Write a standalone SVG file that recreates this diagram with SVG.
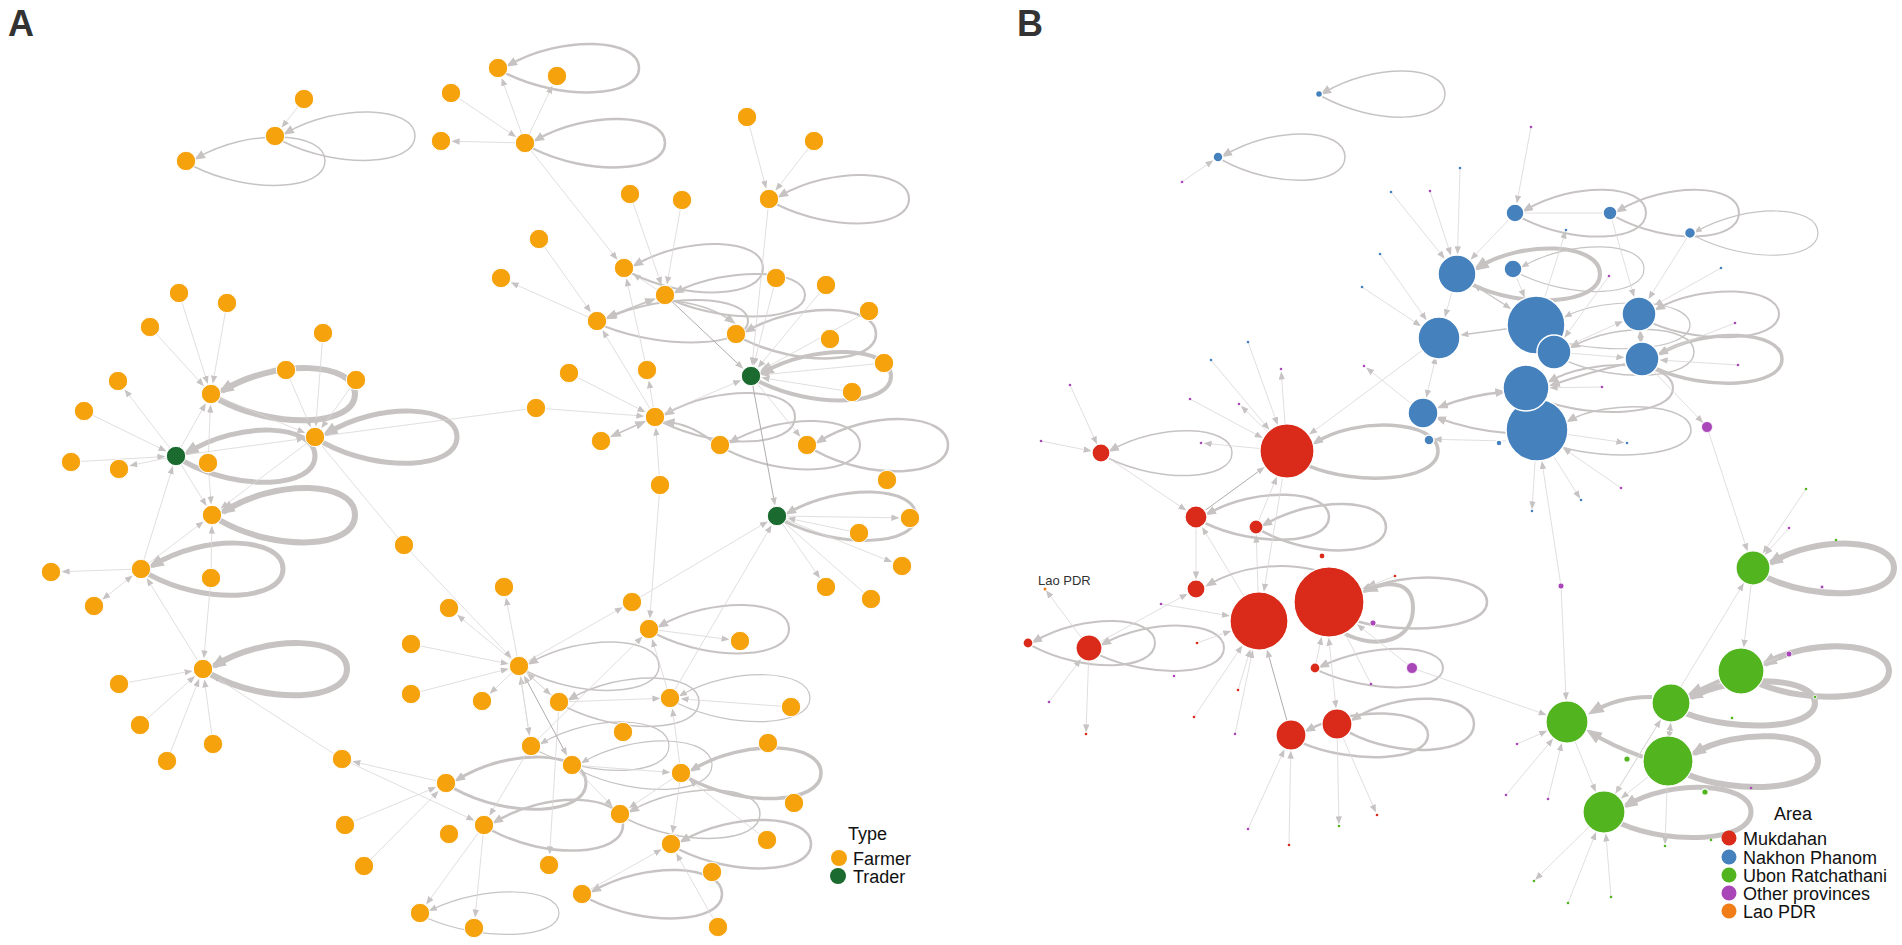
<svg xmlns="http://www.w3.org/2000/svg" width="1902" height="945" viewBox="0 0 1902 945">
<style>
.lp{fill:none;stroke:#c7c3c3}
.e{fill:none;stroke:#d9d6d6;stroke-width:.8}
.ed{fill:none;stroke:#b0acac;stroke-width:1}
.f{fill:#f5a20c;stroke:#fff;stroke-width:1}
.t{fill:#1b6a2f;stroke:#fff;stroke-width:1}
.r{fill:#d92a1a;stroke:#fff;stroke-width:1.2}
.b{fill:#4581bd;stroke:#fff;stroke-width:1.5}
.g{fill:#52b41f;stroke:#fff;stroke-width:1.2}
.p{fill:#a946b8;stroke:#fff;stroke-width:.8}
.o{fill:#f07d18}
.dr{fill:#d92a1a}.db{fill:#4581bd}.dg{fill:#52b41f}.dp{fill:#a946b8}
text{font-family:"Liberation Sans",Arial,sans-serif;fill:#111}
.lab{font-weight:bold;font-size:36px;fill:#333}
.leg{font-size:18px}
</style>
<defs>
<marker id="aS" viewBox="0 0 10 8" refX="7" refY="4" markerWidth="8" markerHeight="6.4" markerUnits="userSpaceOnUse" orient="auto"><path d="M0,0L10,4L0,8z" fill="#c7c3c3"/></marker>
<marker id="aS2" viewBox="0 0 10 8" refX="7" refY="4" markerWidth="8" markerHeight="6.4" markerUnits="userSpaceOnUse" orient="auto-start-reverse"><path d="M0,0L10,4L0,8z" fill="#c7c3c3"/></marker>
<marker id="aM" viewBox="0 0 10 8" refX="7" refY="4" markerWidth="11" markerHeight="8.8" markerUnits="userSpaceOnUse" orient="auto"><path d="M0,0L10,4L0,8z" fill="#c7c3c3"/></marker>
<marker id="aM2" viewBox="0 0 10 8" refX="7" refY="4" markerWidth="11" markerHeight="8.8" markerUnits="userSpaceOnUse" orient="auto-start-reverse"><path d="M0,0L10,4L0,8z" fill="#c7c3c3"/></marker>
<marker id="aL" viewBox="0 0 10 8" refX="7" refY="4" markerWidth="16" markerHeight="12.8" markerUnits="userSpaceOnUse" orient="auto"><path d="M0,0L10,4L0,8z" fill="#c7c3c3"/></marker>
</defs>
<rect width="1902" height="945" fill="#fff"/>
<text class="lab" x="8" y="36">A</text>
<text class="lab" x="1017" y="36">B</text>

<g id="connectors">
<g id="loopsA" class="lp">
<path d="M283,141.5 C338,169 415,166 415,136 C415,106 338,103 286,133" stroke-width="1.5" marker-end="url(#aM)"/>
<path d="M194,166.5 C249,194 325,191 325,161 C325,131 249,128 197,158" stroke-width="1.5" marker-end="url(#aM)"/>
<path d="M506,73.5 C561,101 639,98 639,68 C639,38 561,35 509,65" stroke-width="2.5" marker-end="url(#aM)"/>
<path d="M533,148.5 C588,176 665,173 665,143 C665,113 588,110 536,140" stroke-width="2.5" marker-end="url(#aM)"/>
<path d="M777,204.5 C832,232 909,229 909,199 C909,169 832,166 780,196" stroke-width="2" marker-end="url(#aM)"/>
<path d="M632,273.5 C687,301 763,298 763,268 C763,238 687,235 635,265" stroke-width="2" marker-end="url(#aM)"/>
<path d="M605,326.5 C665,350 748,347 748,321 C748,295 665,292 608,318" stroke-width="2" marker-end="url(#aM)"/>
<path d="M673,300.5 C728,324 805,321 805,295 C805,269 728,266 676,292" stroke-width="2" marker-end="url(#aM)"/>
<path d="M744,339.5 C799,367 876,364 876,334 C876,304 799,301 747,331" stroke-width="2.5" marker-end="url(#aM)"/>
<path d="M759,381.5 C814,409 891,406 891,376 C891,346 814,343 762,373" stroke-width="4" marker-end="url(#aL)"/>
<path d="M663,422.5 C718,450 795,447 795,417 C795,387 718,384 666,414" stroke-width="2" marker-end="url(#aM)"/>
<path d="M728,450.5 C783,478 860,475 860,445 C860,415 783,412 731,442" stroke-width="2" marker-end="url(#aM)"/>
<path d="M815,450.5 C870,481 948,477 948,445 C948,413 870,409 818,442" stroke-width="2.5" marker-end="url(#aM)"/>
<path d="M785,521.5 C840,549 916,546 916,516 C916,486 840,483 788,513" stroke-width="3" marker-end="url(#aM)"/>
<path d="M657,634.5 C712,662 789,659 789,629 C789,599 712,596 660,626" stroke-width="2" marker-end="url(#aM)"/>
<path d="M527,671.5 C582,699 659,696 659,666 C659,636 582,633 530,663" stroke-width="1.5" marker-end="url(#aM)"/>
<path d="M678,703.5 C733,730 810,727 810,698 C810,669 733,666 681,695" stroke-width="1.2" marker-end="url(#aS)"/>
<path d="M567,707.5 C622,735 699,732 699,702 C699,672 622,669 570,699" stroke-width="1.5" marker-end="url(#aM)"/>
<path d="M539,751.5 C593,779 669,776 669,746 C669,716 593,713 542,743" stroke-width="1.2" marker-end="url(#aS)"/>
<path d="M580,770.5 C635,798 712,795 712,765 C712,735 635,732 583,762" stroke-width="1.2" marker-end="url(#aS)"/>
<path d="M689,778.5 C744,808 821,804 821,773 C821,742 744,738 692,770" stroke-width="3.5" marker-end="url(#aM)"/>
<path d="M628,819.5 C683,847 760,844 760,814 C760,784 683,781 631,811" stroke-width="1.5" marker-end="url(#aM)"/>
<path d="M492,830.5 C547,860 623,856 623,825 C623,794 547,790 495,822" stroke-width="2.5" marker-end="url(#aM)"/>
<path d="M679,849.5 C734,877 811,874 811,844 C811,814 734,811 682,841" stroke-width="2.5" marker-end="url(#aM)"/>
<path d="M590,899.5 C645,927 722,924 722,894 C722,864 645,861 593,891" stroke-width="2.5" marker-end="url(#aM)"/>
<path d="M428,918.5 C483,942 559,939 559,913 C559,887 483,884 431,910" stroke-width="1.2" marker-end="url(#aS)"/>
<path d="M454,788.5 C509,819 586,815 586,783 C586,751 509,747 457,780" stroke-width="3" marker-end="url(#aM)"/>
<path d="M219,399.5 C276,430 355,426 355,394 C355,362 276,358 222,391" stroke-width="6" marker-end="url(#aL)"/>
<path d="M184,461.5 C239,492 315,488 315,456 C315,424 239,420 187,453" stroke-width="5" marker-end="url(#aL)"/>
<path d="M323,442.5 C379,473 457,469 457,437 C457,405 379,401 326,434" stroke-width="5" marker-end="url(#aL)"/>
<path d="M220,520.5 C276,552 355,549 355,515 C355,481 276,478 223,512" stroke-width="6" marker-end="url(#aL)"/>
<path d="M149,574.5 C205,605 283,601 283,569 C283,537 205,533 152,566" stroke-width="5" marker-end="url(#aL)"/>
<path d="M211,674.5 C268,705 347,701 347,669 C347,637 268,633 214,666" stroke-width="6" marker-end="url(#aL)"/>
<path d="M652.9,299.6L609.1,316.4" stroke-width="1.8" marker-start="url(#aM2)" marker-end="url(#aM2)"/>
<path d="M643.1,422.3L612.9,435.7" stroke-width="1.5" marker-start="url(#aM2)" marker-end="url(#aM2)"/>
<path d="M712,441Q690,424 666.9,422.1" stroke-width="2" marker-end="url(#aM)"/>
<path d="M676,301Q712,306 733,322" stroke-width="1.5" marker-end="url(#aM)"/>
</g>
<g id="edgesA" class="e" marker-end="url(#aS)">
<path d="M304,99L283,125.8"/><path d="M451,93L514.2,135.7"/><path d="M525,143L454,141.3"/>
<path d="M525,143L502.4,80.2"/><path d="M525,143L551.4,87.7"/><path d="M525,143L615.9,257.8"/>
<path d="M747,117L765.6,186.4"/><path d="M814,141L777,188.7"/><path d="M630,194L660.7,282.7"/>
<path d="M682,200L667.3,282.2"/><path d="M539,239L589.5,310.4"/><path d="M597,321L512.9,283.3"/>
<path d="M665,295L634.9,275.1"/><path d="M776,278L754.2,363.4"/><path d="M826,285L759.3,366"/>
<path d="M869,311L762.4,369.7"/><path d="M884,363L763.9,374.7"/><path d="M852,392L763.8,378"/>
<path d="M769,199L752.3,363.1"/><path d="M751,376L798.8,434.9"/><path d="M655,417L739,381.1"/>
<path d="M536,408L642,416"/><path d="M569,373L643.4,411.1"/><path d="M655,417L649.2,382.8"/>
<path d="M660,485L656,430"/><path d="M660,485L650,616"/><path d="M647,370L626.9,280.7"/>
<path d="M655,417L603.7,332.1"/><path d="M519,666L506.4,599.8"/><path d="M519,666L620.7,608.4"/>
<path d="M670,698L652.8,641.4"/><path d="M649,629L727.1,639.3"/><path d="M632,602L765.8,522.6"/>
<path d="M670,698L770.4,527.2"/><path d="M859,533L789.7,518.6"/><path d="M777,516L897,517.8"/>
<path d="M777,516L889.9,561.2"/><path d="M777,516L818.6,576.3"/><path d="M519,666L491.4,692.1"/>
<path d="M559,702L528.7,674.7"/><path d="M531,746L520.9,678.9"/><path d="M572,765L610.9,804.7"/>
<path d="M531,746L490.6,813.8"/><path d="M559,702L549.8,852"/><path d="M582,894L659.7,850.4"/>
<path d="M718,927L677.4,855.3"/><path d="M681,773L672.7,710.9"/><path d="M484,825L427.6,902.5"/>
<path d="M446,783L354.7,761.9"/><path d="M345,825L434,788"/><path d="M364,866L436.9,792.8"/>
<path d="M342,759L472.2,819.5"/><path d="M791,707L683,699"/><path d="M484,825L475.3,915.1"/>
<path d="M681,773L672.8,831.1"/><path d="M404,545L510,656.6"/><path d="M519,666L459,616.3"/>
<path d="M411,644L506.3,663.4"/><path d="M411,694L506.4,669.3"/><path d="M342,759L213.9,676.1"/>
<path d="M531,746L640.8,638.2"/><path d="M519,666L549.2,693.4"/><path d="M559,702L658,698.5"/>
<path d="M519,666L529.1,733.1"/><path d="M572,765L668,772.2"/><path d="M767,840L691.2,781.1"/>
<path d="M681,773L630.8,806.7"/>
<path d="M179,293L207.1,381.6"/><path d="M227,303L213.2,381.2"/><path d="M150,327L202.3,384.4"/>
<path d="M176,456L126,391.3"/><path d="M84,411L164.3,450.3"/><path d="M71,462L163,456.7"/>
<path d="M176,456L131.7,465.3"/><path d="M176,456L204.6,405.3"/><path d="M208,463L210.4,407"/>
<path d="M323,333L316,424"/><path d="M286,370L309.8,425.1"/><path d="M356,380L322.6,426.4"/>
<path d="M176,456L302.1,438.8"/><path d="M211,394L303,432"/><path d="M315,437L222.4,507.1"/>
<path d="M176,456L205.2,503.9"/><path d="M208,463L211,502"/><path d="M141,569L201.7,522.9"/>
<path d="M211,578L211.8,528"/><path d="M141,569L64,571.6"/><path d="M141,569L172.2,468.4"/>
<path d="M203,669L147.9,580"/><path d="M211,578L204.1,656"/><path d="M119,684L190.2,671.3"/>
<path d="M140,725L193.3,677.6"/><path d="M167,761L198.3,681.1"/><path d="M213,744L204.7,681.9"/>
<path d="M130.8,577L104.2,598" marker-start="url(#aS2)" marker-end="url(#aS2)"/>
<path d="M536,408L327.9,435.3" marker-end="none"/><path d="M871,599L777,516" marker-end="none"/>
<path d="M322,446L404,545" marker-end="none"/>
</g>
<g id="edgesAdark" class="ed">
<path d="M665,295L741.5,367.1" marker-end="url(#aS)"/>
<path d="M751,376L774.6,503.2" marker-end="url(#aS)"/>
<path d="M525.1,677.5L565.9,753.5" marker-start="url(#aS2)" marker-end="url(#aS2)"/>
</g>

<g id="loopsB" class="lp">
<path d="M1321,96 C1376,126 1445,123 1445,94 C1445,65 1376,62 1323,93" stroke-width="1.5" marker-end="url(#aM)"/>
<path d="M1222,160 C1275,189 1345,186 1345,157 C1345,128 1275,125 1224,155.5" stroke-width="1.5" marker-end="url(#aM)"/>
<path d="M1522,218 C1574,245 1646,242 1646,213 C1646,184 1574,181 1525,210.3" stroke-width="2" marker-end="url(#aM)"/>
<path d="M1615.6,216.9 C1668,245 1739,242 1739,213 C1739,184 1668,181 1618,211" stroke-width="2" marker-end="url(#aM)"/>
<path d="M1694,235.8 C1748,263.6 1818,260.6 1818,233 C1818,205.4 1748,202.4 1696,231.5" stroke-width="1.2" marker-end="url(#aS)"/>
<path d="M1520,274 C1572,299.6 1644,296.6 1644,269 C1644,241.4 1572,238.4 1523,266.3" stroke-width="1.2" marker-end="url(#aS)"/>
<path d="M1472,284.5 C1521,308.6 1600,305.2 1600,274 C1600,242.8 1521,239.4 1477,268.3" stroke-width="4" marker-end="url(#aL)"/>
<path d="M1652.6,323.4 C1702,344.6 1779,341.6 1779,314 C1779,286.4 1702,283.4 1657,308.9" stroke-width="2" marker-end="url(#aM)"/>
<path d="M1655.6,368.4 C1705,391 1782,387.8 1782,359 C1782,330.2 1705,327 1660,353.9" stroke-width="3.5" marker-end="url(#aM)"/>
<path d="M1559,341 C1605,354.3 1690,351.4 1690,325 C1690,298.6 1605,295.7 1566,316.3" stroke-width="1.2" marker-end="url(#aS)"/>
<path d="M1567.6,361.4 C1617,382.6 1694,379.6 1694,352 C1694,324.4 1617,321.4 1572,346.9" stroke-width="1.5" marker-end="url(#aM)"/>
<path d="M1544.4,400.7 C1592,418.6 1673,415.6 1673,388 C1673,360.4 1592,357.4 1550,381.1" stroke-width="2" marker-end="url(#aM)"/>
<path d="M1561.8,447 C1606,460.6 1691,457.6 1691,430 C1691,402.4 1606,399.4 1569,420.7" stroke-width="1.5" marker-end="url(#aM)"/>
<path d="M1308.6,465.9 C1355,485.6 1438,482.2 1438,451 C1438,419.8 1355,416.4 1315,442.9" stroke-width="3.5" marker-end="url(#aM)"/>
<path d="M1108,458 C1160,483.6 1232,480.6 1232,453 C1232,425.4 1160,422.4 1111,450.3" stroke-width="1.5" marker-end="url(#aM)"/>
<path d="M1204.8,523 C1256,547.6 1329,544.6 1329,517 C1329,489.4 1256,486.4 1208,513.7" stroke-width="2.5" marker-end="url(#aM)"/>
<path d="M1261.6,530.9 C1314.5,559 1386,555.8 1386,527 C1386,498.2 1314.5,495 1264,524.9" stroke-width="2.5" marker-end="url(#aM)"/>
<path d="M1357,621.3 C1400,634 1487,630.8 1487,602 C1487,573.2 1400,570 1365,591.5" stroke-width="2.5" marker-end="url(#aM)"/>
<path d="M1345,634 C1380,650 1413,640 1413,608 C1413,585 1395,578 1366,590" stroke-width="4" marker-end="url(#aL)"/>
<path d="M1099.4,655.2 C1150,678.6 1224,675.6 1224,648 C1224,620.4 1150,617.4 1103,644.1" stroke-width="2" marker-end="url(#aM)"/>
<path d="M1032,645.8 C1085,673.6 1155,670.6 1155,643 C1155,615.4 1085,612.4 1034,641.5" stroke-width="2" marker-end="url(#aM)"/>
<path d="M1319,670.8 C1372.6,694.6 1443,692 1443,668 C1443,644 1372.6,641.4 1321,666.5" stroke-width="2" marker-end="url(#aM)"/>
<path d="M1349,732.3 C1398.7,758.6 1474,755.2 1474,724 C1474,692.8 1398.7,689.4 1353,719.5" stroke-width="2.5" marker-end="url(#aM)"/>
<path d="M1303,743.3 C1353,764.3 1428,761.4 1428,735 C1428,708.6 1353,705.7 1307,730.5" stroke-width="2.5" marker-end="url(#aM)"/>
<path d="M1766.6,577.4 C1816.5,601.3 1894,598 1894,568 C1894,538 1816.5,534.8 1771,562.9" stroke-width="6" marker-end="url(#aL)"/>
<path d="M1759.4,683.7 C1807.6,704.3 1889,701 1889,671 C1889,641 1807.6,637.8 1765,664.1" stroke-width="6" marker-end="url(#aL)"/>
<path d="M1686.2,713.5 C1735.8,732.3 1815,729.4 1815,703 C1815,676.6 1735.8,673.7 1691,697.3" stroke-width="6" marker-end="url(#aL)"/>
<path d="M1688,774.8 C1735.5,794.3 1818,791 1818,761 C1818,731 1735.5,727.8 1694,753.5" stroke-width="6" marker-end="url(#aL)"/>
<path d="M1620.8,823.6 C1670,845.3 1751,842 1751,812 C1751,782 1670,778.8 1626,805.7" stroke-width="5" marker-end="url(#aL)"/>
<path d="M1475.5,286L1509.1,307.6" stroke-width="1.2" marker-start="url(#aS2)" marker-end="url(#aS2)"/>
<path d="M1536,325L1462.8,334.8" stroke-width="1.5" marker-end="url(#aS)"/>
<path d="M1315,570C1280,562 1240,566 1208,585" stroke-width="2" marker-end="url(#aM)"/>
<path d="M1720,680.6L1691,693.8" stroke-width="4" marker-end="url(#aL)"/>
<path d="M1652,697Q1620,696 1592,712" stroke-width="4" marker-end="url(#aL)"/>
<path d="M1643,757Q1610,745 1590,732" stroke-width="4" marker-end="url(#aL)"/>
<path d="M1670.5,725L1669,737" stroke-width="1.5" marker-start="url(#aS2)" marker-end="url(#aS2)"/>
<path d="M1503,392Q1470,395 1440,407" stroke-width="2.5" marker-start="url(#aM2)" marker-end="url(#aM2)"/>
<path d="M1507,433Q1470,430 1438,418" stroke-width="2" marker-end="url(#aM)"/>
<path d="M1625,364Q1590,372 1552,385" stroke-width="2" marker-end="url(#aM)"/>
</g>
<g id="edgesB" class="e" marker-end="url(#aS)">
<path d="M1182,182L1211.4,161.6"/><path d="M1531,127L1517.2,201.2"/><path d="M1460,168L1457.6,252"/>
<path d="M1430,191L1450.2,253.1"/><path d="M1391,192L1443.2,256.9"/><path d="M1380,254L1425.2,318.3"/>
<path d="M1362,287L1419,324.8"/><path d="M1457,274L1445.5,314.9"/><path d="M1513,269L1523.8,295.4"/>
<path d="M1536,325L1565.1,232.9"/><path d="M1690,233L1649.7,297.1"/><path d="M1721,268L1656.4,304.2"/>
<path d="M1610,213L1633.5,294.8"/><path d="M1642,359L1701.5,421.2"/><path d="M1707,427L1746.8,549"/>
<path d="M1537,430L1622,442.3"/><path d="M1735,323L1661.3,351.8"/><path d="M1738,365L1662,360.2"/>
<path d="M1602,387L1552,387.7"/><path d="M1609,276L1565.7,335.8"/><path d="M1439,338L1311.1,433.1"/>
<path d="M1248,342L1276.9,422.8"/><path d="M1211,360L1267.8,428"/><path d="M1190,399L1260.6,436.8"/>
<path d="M1287,451L1242.6,407.5"/><path d="M1287,451L1281.4,374"/><path d="M1287,451L1206,443.5"/>
<path d="M1423,413L1368,369"/><path d="M1070,385L1096,442.1"/><path d="M1041,441L1089.2,450.6"/>
<path d="M1101,453L1184.4,509.2"/><path d="M1196,517L1196,577"/><path d="M1259,621L1256.3,537"/>
<path d="M1287,451L1264.2,589.4"/><path d="M1395,576L1364.4,588.1"/><path d="M1412,668L1358.8,625.7"/>
<path d="M1161,604L1227.5,615.5"/><path d="M1197,643L1228.9,631.7"/><path d="M1238,690L1249.7,651.6"/>
<path d="M1194,717L1241,647.5"/><path d="M1235,734L1252.3,652.3"/>
<path d="M1329,640L1335.8,706" marker-start="url(#aS2)" marker-end="url(#aS2)"/>
<path d="M1248,829L1283.5,751.4"/><path d="M1289,845L1290.7,753"/><path d="M1337,724L1338.9,822"/>
<path d="M1337,724L1375,810.4"/><path d="M1089,648L1047.4,592.2"/><path d="M1049,702L1079.5,660.9"/>
<path d="M1089,648L1086.1,730"/><path d="M1089,648L1185.5,594.8"/><path d="M1315,668L1321.1,639.2"/>
<path d="M1259,621L1203.3,529"/><path d="M1256,527L1276,478.9"/>
<path d="M1517,744L1545,731.7"/><path d="M1506,795L1551.6,740.4"/><path d="M1548,799L1561.2,745.3"/>
<path d="M1412,668L1544.3,714.1"/><path d="M1561,586L1542.2,463.4"/><path d="M1561,586L1566,698"/>
<path d="M1537,430L1532.2,507"/><path d="M1537,430L1578.9,496.6"/><path d="M1621,488L1565,449.3"/>
<path d="M1567,722L1594.9,789.8"/><path d="M1604,812L1536.8,878.2"/><path d="M1568,903L1595.2,834.3"/>
<path d="M1611,897L1606,836"/><path d="M1671,703L1616.6,791.6"/><path d="M1668,761L1622.8,797"/>
<path d="M1668,761L1665.1,842"/><path d="M1806,489L1764.1,551.4"/><path d="M1789,528L1766.4,553.1"/>
<path d="M1753,568L1744,645.2"/><path d="M1671,703L1742.6,585.1"/><path d="M1604,812L1659.5,721.7"/>
<path d="M1741,671L1784.3,655.7"/><path d="M1515,213L1472.2,258"/>
<path d="M1435.4,358.5L1426.8,395.4" marker-start="url(#aS2)" marker-end="url(#aS2)"/>
<path d="M1506,441L1436,439.3"/>
<path d="M1554,352L1622,357.4"/><path d="M1554,352L1620.7,322.2"/>
<path d="M1329,602L1371,684" marker-end="none"/><path d="M1610,213L1524,213" marker-end="none"/>
<path d="M1640.3,332L1641,342" marker-start="url(#aS2)" marker-end="url(#aS2)"/>
</g>
<g id="edgesBdark" class="ed">
<path d="M1196,517L1262.7,468.4" marker-end="url(#aS)"/>
<path d="M1291,735L1267.6,651.8" marker-end="url(#aS)"/>
</g>
</g>

<g id="nodesA">
<g id="a1"><circle class="f" cx="304" cy="99" r="9.7"/></g>
<g id="a2"><circle class="f" cx="275" cy="136" r="9.7"/></g>
<g id="a3"><circle class="f" cx="186" cy="161" r="9.7"/></g>
<g id="a4"><circle class="f" cx="451" cy="93" r="9.7"/></g>
<g id="a5"><circle class="f" cx="441" cy="141" r="9.7"/></g>
<g id="a6"><circle class="f" cx="498" cy="68" r="9.7"/></g>
<g id="a7"><circle class="f" cx="557" cy="76" r="9.7"/></g>
<g id="a8"><circle class="f" cx="525" cy="143" r="9.7"/></g>
<g id="a9"><circle class="f" cx="747" cy="117" r="9.7"/></g>
<g id="a10"><circle class="f" cx="814" cy="141" r="9.7"/></g>
<g id="a11"><circle class="f" cx="769" cy="199" r="9.7"/></g>
<g id="a12"><circle class="f" cx="630" cy="194" r="9.7"/></g>
<g id="a13"><circle class="f" cx="682" cy="200" r="9.7"/></g>
<g id="a14"><circle class="f" cx="539" cy="239" r="9.7"/></g>
<g id="a15"><circle class="f" cx="501" cy="278" r="9.7"/></g>
<g id="a16"><circle class="f" cx="624" cy="268" r="9.7"/></g>
<g id="a17"><circle class="f" cx="665" cy="295" r="9.7"/></g>
<g id="a18"><circle class="f" cx="776" cy="278" r="9.7"/></g>
<g id="a19"><circle class="f" cx="826" cy="285" r="9.7"/></g>
<g id="a20"><circle class="f" cx="597" cy="321" r="9.7"/></g>
<g id="a21"><circle class="f" cx="736" cy="334" r="9.7"/></g>
<g id="a22"><circle class="f" cx="869" cy="311" r="9.7"/></g>
<g id="a23"><circle class="f" cx="830" cy="339" r="9.7"/></g>
<g id="a24"><circle class="f" cx="884" cy="363" r="9.7"/></g>
<g id="a25"><circle class="f" cx="852" cy="392" r="9.7"/></g>
<g id="a26"><circle class="f" cx="569" cy="373" r="9.7"/></g>
<g id="a27"><circle class="f" cx="647" cy="370" r="9.7"/></g>
<g id="a28"><circle class="f" cx="536" cy="408" r="9.7"/></g>
<g id="a29"><circle class="f" cx="655" cy="417" r="9.7"/></g>
<g id="a30"><circle class="f" cx="601" cy="441" r="9.7"/></g>
<g id="a31"><circle class="f" cx="720" cy="445" r="9.7"/></g>
<g id="a32"><circle class="f" cx="807" cy="445" r="9.7"/></g>
<g id="a33"><circle class="f" cx="887" cy="480" r="9.7"/></g>
<g id="a34"><circle class="f" cx="660" cy="485" r="9.7"/></g>
<g id="a35"><circle class="f" cx="910" cy="518" r="9.7"/></g>
<g id="a36"><circle class="f" cx="859" cy="533" r="9.7"/></g>
<g id="a37"><circle class="f" cx="902" cy="566" r="9.7"/></g>
<g id="a38"><circle class="f" cx="826" cy="587" r="9.7"/></g>
<g id="a39"><circle class="f" cx="871" cy="599" r="9.7"/></g>
<g id="a40"><circle class="t" cx="751" cy="376" r="9.7"/></g>
<g id="a41"><circle class="t" cx="777" cy="516" r="9.7"/></g>
<g id="a42"><circle class="t" cx="176" cy="456" r="9.7"/></g>
<g id="a43"><circle class="f" cx="179" cy="293" r="9.7"/></g>
<g id="a44"><circle class="f" cx="227" cy="303" r="9.7"/></g>
<g id="a45"><circle class="f" cx="150" cy="327" r="9.7"/></g>
<g id="a46"><circle class="f" cx="323" cy="333" r="9.7"/></g>
<g id="a47"><circle class="f" cx="118" cy="381" r="9.7"/></g>
<g id="a48"><circle class="f" cx="286" cy="370" r="9.7"/></g>
<g id="a49"><circle class="f" cx="356" cy="380" r="9.7"/></g>
<g id="a50"><circle class="f" cx="211" cy="394" r="9.7"/></g>
<g id="a51"><circle class="f" cx="84" cy="411" r="9.7"/></g>
<g id="a52"><circle class="f" cx="315" cy="437" r="9.7"/></g>
<g id="a53"><circle class="f" cx="71" cy="462" r="9.7"/></g>
<g id="a54"><circle class="f" cx="119" cy="469" r="9.7"/></g>
<g id="a55"><circle class="f" cx="208" cy="463" r="9.7"/></g>
<g id="a56"><circle class="f" cx="212" cy="515" r="9.7"/></g>
<g id="a57"><circle class="f" cx="141" cy="569" r="9.7"/></g>
<g id="a58"><circle class="f" cx="51" cy="572" r="9.7"/></g>
<g id="a59"><circle class="f" cx="94" cy="606" r="9.7"/></g>
<g id="a60"><circle class="f" cx="211" cy="578" r="9.7"/></g>
<g id="a61"><circle class="f" cx="203" cy="669" r="9.7"/></g>
<g id="a62"><circle class="f" cx="119" cy="684" r="9.7"/></g>
<g id="a63"><circle class="f" cx="140" cy="725" r="9.7"/></g>
<g id="a64"><circle class="f" cx="213" cy="744" r="9.7"/></g>
<g id="a65"><circle class="f" cx="167" cy="761" r="9.7"/></g>
<g id="a66"><circle class="f" cx="404" cy="545" r="9.7"/></g>
<g id="a67"><circle class="f" cx="449" cy="608" r="9.7"/></g>
<g id="a68"><circle class="f" cx="411" cy="644" r="9.7"/></g>
<g id="a69"><circle class="f" cx="411" cy="694" r="9.7"/></g>
<g id="a70"><circle class="f" cx="342" cy="759" r="9.7"/></g>
<g id="a71"><circle class="f" cx="446" cy="783" r="9.7"/></g>
<g id="a72"><circle class="f" cx="345" cy="825" r="9.7"/></g>
<g id="a73"><circle class="f" cx="449" cy="834" r="9.7"/></g>
<g id="a74"><circle class="f" cx="364" cy="866" r="9.7"/></g>
<g id="a75"><circle class="f" cx="420" cy="913" r="9.7"/></g>
<g id="a76"><circle class="f" cx="474" cy="928" r="9.7"/></g>
<g id="a77"><circle class="f" cx="504" cy="587" r="9.7"/></g>
<g id="a78"><circle class="f" cx="632" cy="602" r="9.7"/></g>
<g id="a79"><circle class="f" cx="649" cy="629" r="9.7"/></g>
<g id="a80"><circle class="f" cx="740" cy="641" r="9.7"/></g>
<g id="a81"><circle class="f" cx="519" cy="666" r="9.7"/></g>
<g id="a82"><circle class="f" cx="482" cy="701" r="9.7"/></g>
<g id="a83"><circle class="f" cx="559" cy="702" r="9.7"/></g>
<g id="a84"><circle class="f" cx="670" cy="698" r="9.7"/></g>
<g id="a85"><circle class="f" cx="791" cy="707" r="9.7"/></g>
<g id="a86"><circle class="f" cx="623" cy="732" r="9.7"/></g>
<g id="a87"><circle class="f" cx="531" cy="746" r="9.7"/></g>
<g id="a88"><circle class="f" cx="572" cy="765" r="9.7"/></g>
<g id="a89"><circle class="f" cx="681" cy="773" r="9.7"/></g>
<g id="a90"><circle class="f" cx="768" cy="743" r="9.7"/></g>
<g id="a91"><circle class="f" cx="794" cy="803" r="9.7"/></g>
<g id="a92"><circle class="f" cx="620" cy="814" r="9.7"/></g>
<g id="a93"><circle class="f" cx="484" cy="825" r="9.7"/></g>
<g id="a94"><circle class="f" cx="671" cy="844" r="9.7"/></g>
<g id="a95"><circle class="f" cx="767" cy="840" r="9.7"/></g>
<g id="a96"><circle class="f" cx="549" cy="865" r="9.7"/></g>
<g id="a97"><circle class="f" cx="712" cy="872" r="9.7"/></g>
<g id="a98"><circle class="f" cx="582" cy="894" r="9.7"/></g>
<g id="a99"><circle class="f" cx="718" cy="927" r="9.7"/></g>
</g>

<g id="nodesB">
<g id="b1"><circle class="b" cx="1319" cy="94" r="3.5"/></g>
<g id="b2"><circle class="b" cx="1218" cy="157" r="5"/></g>
<g id="b3"><circle class="b" cx="1515" cy="213" r="9"/></g>
<g id="b4"><circle class="b" cx="1610" cy="213" r="7"/></g>
<g id="b5"><circle class="b" cx="1690" cy="233" r="5.5"/></g>
<g id="b6"><circle class="b" cx="1457" cy="274" r="19"/></g>
<g id="b7"><circle class="b" cx="1513" cy="269" r="9"/></g>
<g id="b8"><circle class="b" cx="1439" cy="338" r="21"/></g>
<g id="b9"><circle class="b" cx="1536" cy="325" r="29"/></g>
<g id="b10"><circle class="b" cx="1554" cy="352" r="17"/></g>
<g id="b11"><circle class="b" cx="1639" cy="314" r="17"/></g>
<g id="b12"><circle class="b" cx="1642" cy="359" r="17"/></g>
<g id="b13"><circle class="b" cx="1537" cy="430" r="31"/></g>
<g id="b14"><circle class="b" cx="1526" cy="388" r="23"/></g>
<g id="b15"><circle class="b" cx="1423" cy="413" r="15"/></g>
<g id="b16"><circle class="b" cx="1429" cy="440" r="5"/></g>
<g id="b17"><circle class="b" cx="1499" cy="443" r="3"/></g>
<g id="b18"><circle class="p" cx="1707" cy="427" r="5.5"/></g>
<g id="b19"><circle class="p" cx="1412" cy="668" r="5.5"/></g>
<g id="b20"><circle class="p" cx="1373" cy="623" r="3"/></g>
<g id="b21"><circle class="p" cx="1561" cy="586" r="3"/></g>
<g id="b22"><circle class="p" cx="1789" cy="654" r="3"/></g>
<g id="b23"><circle class="r" cx="1287" cy="451" r="27"/></g>
<g id="b24"><circle class="r" cx="1101" cy="453" r="9"/></g>
<g id="b25"><circle class="r" cx="1196" cy="517" r="11"/></g>
<g id="b26"><circle class="r" cx="1256" cy="527" r="7"/></g>
<g id="b27"><circle class="r" cx="1322" cy="556" r="3"/></g>
<g id="b28"><circle class="r" cx="1196" cy="589" r="9"/></g>
<g id="b29"><circle class="r" cx="1259" cy="621" r="29"/></g>
<g id="b30"><circle class="r" cx="1329" cy="602" r="35"/></g>
<g id="b31"><circle class="r" cx="1315" cy="668" r="5"/></g>
<g id="b32"><circle class="r" cx="1028" cy="643" r="5"/></g>
<g id="b33"><circle class="r" cx="1089" cy="648" r="13"/></g>
<g id="b34"><circle class="r" cx="1291" cy="735" r="15"/></g>
<g id="b35"><circle class="r" cx="1337" cy="724" r="15"/></g>
<g id="b36"><circle class="g" cx="1753" cy="568" r="17"/></g>
<g id="b37"><circle class="g" cx="1741" cy="671" r="23"/></g>
<g id="b38"><circle class="g" cx="1671" cy="703" r="19"/></g>
<g id="b39"><circle class="g" cx="1567" cy="722" r="21"/></g>
<g id="b40"><circle class="g" cx="1668" cy="761" r="25"/></g>
<g id="b41"><circle class="g" cx="1604" cy="812" r="21"/></g>
<g id="b42"><circle class="g" cx="1627" cy="759" r="3.2"/></g>
<g id="b43"><circle class="g" cx="1705" cy="792" r="3.2"/></g>
<g id="b44"><circle class="o" cx="1045" cy="589" r="1.5"/></g>
<g id="tiny">
<circle class="db" cx="1391" cy="192" r="1.3"/><circle class="db" cx="1380" cy="254" r="1.3"/><circle class="db" cx="1362" cy="287" r="1.3"/>
<circle class="db" cx="1248" cy="342" r="1.3"/><circle class="db" cx="1211" cy="360" r="1.3"/><circle class="db" cx="1460" cy="168" r="1.3"/>
<circle class="db" cx="1566" cy="230" r="1.3"/><circle class="db" cx="1721" cy="268" r="1.3"/><circle class="db" cx="1627" cy="443" r="1.3"/>
<circle class="db" cx="1532" cy="511" r="1.3"/><circle class="db" cx="1581" cy="500" r="1.3"/>
<circle class="dp" cx="1239" cy="404" r="1.3"/><circle class="dp" cx="1182" cy="182" r="1.3"/><circle class="dp" cx="1281" cy="369" r="1.3"/>
<circle class="dp" cx="1364" cy="366" r="1.3"/><circle class="dp" cx="1190" cy="399" r="1.3"/><circle class="dp" cx="1070" cy="385" r="1.3"/>
<circle class="dp" cx="1201" cy="443" r="1.3"/><circle class="dp" cx="1430" cy="191" r="1.3"/><circle class="dp" cx="1531" cy="127" r="1.3"/>
<circle class="dp" cx="1609" cy="276" r="1.3"/><circle class="dp" cx="1738" cy="365" r="1.3"/><circle class="dp" cx="1602" cy="387" r="1.3"/>
<circle class="dp" cx="1621" cy="488" r="1.3"/><circle class="dp" cx="1789" cy="528" r="1.3"/><circle class="dp" cx="1517" cy="744" r="1.3"/>
<circle class="dp" cx="1506" cy="795" r="1.3"/><circle class="dp" cx="1548" cy="799" r="1.3"/><circle class="dp" cx="1751" cy="788" r="1.3"/>
<circle class="dp" cx="1161" cy="604" r="1.3"/><circle class="dp" cx="1174" cy="676" r="1.3"/><circle class="dp" cx="1049" cy="702" r="1.3"/>
<circle class="dp" cx="1235" cy="734" r="1.3"/><circle class="dp" cx="1248" cy="829" r="1.3"/><circle class="dp" cx="1371" cy="684" r="1.3"/>
<circle class="dp" cx="1041" cy="441" r="1.3"/><circle class="dp" cx="1735" cy="323" r="1.3"/>
<circle class="dr" cx="1197" cy="643" r="1.3"/><circle class="dr" cx="1086" cy="734" r="1.3"/><circle class="dr" cx="1238" cy="690" r="1.3"/>
<circle class="dr" cx="1194" cy="717" r="1.3"/><circle class="dr" cx="1289" cy="845" r="1.3"/><circle class="dr" cx="1377" cy="815" r="1.3"/>
<circle class="dr" cx="1395" cy="576" r="1.3"/>
<circle class="dg" cx="1339" cy="826" r="1.3"/><circle class="dg" cx="1806" cy="489" r="1.3"/><circle class="dg" cx="1836" cy="540" r="1.3"/>
<circle class="dg" cx="1665" cy="846" r="1.3"/><circle class="dg" cx="1534" cy="881" r="1.3"/><circle class="dg" cx="1568" cy="903" r="1.3"/>
<circle class="dg" cx="1611" cy="897" r="1.3"/><circle class="dg" cx="1711" cy="840" r="1.3"/><circle class="dg" cx="1815" cy="697" r="1.8" stroke="#fff" stroke-width=".8"/>
<circle class="dg" cx="1732" cy="718" r="1.8" stroke="#fff" stroke-width=".8"/><circle class="dp" cx="1822" cy="587" r="2" stroke="#fff" stroke-width="1"/>
</g>
</g>

<text x="1038" y="585" font-size="13" style="fill:#333">Lao PDR</text>

<g id="legendA">
<text class="leg" x="848" y="840">Type</text>
<circle cx="839" cy="858" r="8" fill="#f5a20c"/>
<text class="leg" x="853" y="865">Farmer</text>
<circle cx="838" cy="876" r="8" fill="#1b6a2f"/>
<text class="leg" x="853" y="883">Trader</text>
</g>
<g id="legendB">
<text class="leg" x="1774" y="820">Area</text>
<circle cx="1729" cy="838" r="7.5" fill="#d92a1a"/>
<text class="leg" x="1743" y="845">Mukdahan</text>
<circle cx="1729" cy="857" r="7.5" fill="#4581bd"/>
<text class="leg" x="1743" y="864">Nakhon Phanom</text>
<circle cx="1729" cy="875" r="7.5" fill="#52b41f"/>
<text class="leg" x="1743" y="882">Ubon Ratchathani</text>
<circle cx="1729" cy="893" r="7.5" fill="#a946b8"/>
<text class="leg" x="1743" y="900">Other provinces</text>
<circle cx="1729" cy="911" r="7.5" fill="#f07d18"/>
<text class="leg" x="1743" y="918">Lao PDR</text>
</g>
</svg>
